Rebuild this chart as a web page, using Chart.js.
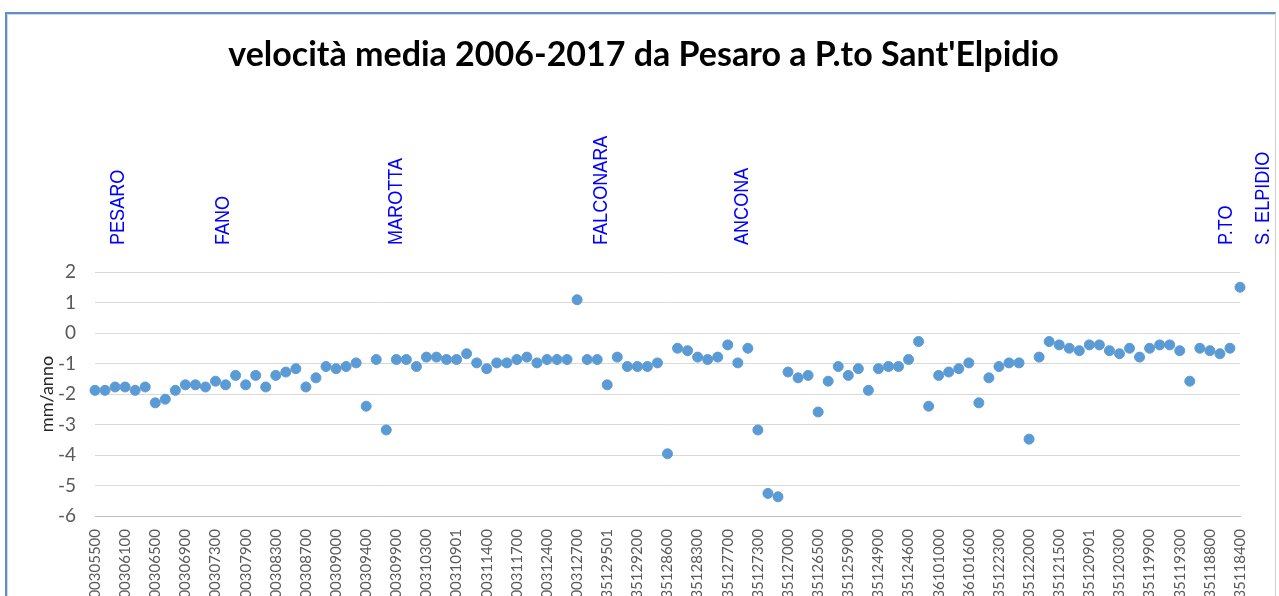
<!DOCTYPE html>
<html lang="it">
<head>
    <meta charset="UTF-8">
    <meta name="viewport" content="width=device-width, initial-scale=1.0">
    <title>velocità media 2006-2017</title>
    <script src="https://cdn.jsdelivr.net/npm/chart.js"></script>
    <style>
        html, body {
            margin: 0;
            padding: 0;
            background: #fff;
            overflow: hidden;
        }
        .frame {
            position: absolute;
            left: 5px;
            top: 12px;
            width: 1268px;
            height: 620px;
            border-left: 2px solid #5b8fd0;
            border-top: 2px solid #5b8fd0;
            border-right: 1px solid #d0d0d0;
            box-shadow: inset 1px 1px 0 #d8d8d8;
        }
        .chart-box {
            position: absolute;
            left: 0;
            top: 0;
            width: 1279px;
            height: 596px;
        }
    </style>
</head>
<body>
    <div class="frame"></div>
    <div class="chart-box">
        <canvas id="velChart"></canvas>
    </div>

    <script>
        const titolo = "velocità media 2006-2017 da Pesaro a P.to Sant'Elpidio";

        // codici dei capisaldi (uno ogni tre punti, come nell'originale)
        const codici = [
            '00305500', '00306100', '00306500', '00306900', '00307300', '00307900', '00308300',
            '00308700', '00309000', '00309400', '00309900', '00310300', '00310901',
            '00311400', '00311700', '00312400', '00312700', '35129501', '35129200', '35128600',
            '35128300', '35127700', '35127300', '35127000', '35126500', '35125900',
            '35124900', '35124600', '36101000', '36101600', '35122300', '35122000', '35121500',
            '35120901', '35120300', '35119900', '35119300', '35118800', '35118400'
        ];

        // velocità media (mm/anno)
        const velocita = [
            -1.88, -1.88, -1.77, -1.77, -1.88, -1.77, -2.29, -2.17, -1.88, -1.70,
            -1.70, -1.77, -1.58, -1.70, -1.39, -1.70, -1.39, -1.77, -1.39, -1.28,
            -1.17, -1.77, -1.47, -1.10, -1.17, -1.10, -0.98, -2.40, -0.87, -3.18,
            -0.87, -0.87, -1.10, -0.79, -0.79, -0.87, -0.87, -0.68, -0.98, -1.17,
            -0.98, -0.98, -0.87, -0.79, -0.98, -0.87, -0.87, -0.87, 1.09, -0.87,
            -0.87, -1.70, -0.79, -1.10, -1.10, -1.10, -0.98, -3.96, -0.50, -0.58,
            -0.79, -0.87, -0.79, -0.39, -0.98, -0.50, -3.18, -5.26, -5.37, -1.28,
            -1.47, -1.39, -2.59, -1.58, -1.10, -1.39, -1.17, -1.88, -1.17, -1.10,
            -1.10, -0.87, -0.28, -2.40, -1.39, -1.28, -1.17, -0.98, -2.29, -1.47,
            -1.10, -0.98, -0.98, -3.48, -0.79, -0.28, -0.39, -0.50, -0.58, -0.39,
            -0.39, -0.58, -0.68, -0.50, -0.79, -0.50, -0.39, -0.39, -0.58, -1.58,
            -0.50, -0.58, -0.68, -0.50, 1.50
        ];

        // località lungo la costa e posizione (in punti) sull'asse
        const localita = ['PESARO', 'FANO', 'MAROTTA', 'FALCONARA', 'ANCONA', 'P.TO', 'S. ELPIDIO'];
        const posLocalita = [2.3, 12.8, 30.0, 50.4, 64.4, 112.6, 116.3];

        const passo = 3;
        const etichette = velocita.map((v, i) => i % passo === 0 ? codici[i / passo] : '');

        // titolo centrato sul riquadro e nomi delle località in verticale
        const pluginTesti = {
            id: 'testi',
            afterDraw(chart) {
                const ctx = chart.ctx;
                const x = chart.scales.x;
                ctx.save();
                ctx.fillStyle = '#000';
                ctx.font = 'bold 34px Lato, sans-serif';
                ctx.textAlign = 'center';
                ctx.textBaseline = 'middle';
                ctx.fillText(titolo, chart.width / 2 + 4, 55);

                const base = chart.chartArea.top - 27;
                ctx.fillStyle = '#0000ff';
                ctx.font = '21px "Liberation Sans", Arial, sans-serif';
                ctx.textAlign = 'left';
                localita.forEach((nome, i) => {
                    ctx.save();
                    ctx.translate(x.getPixelForValue(posLocalita[i]), base);
                    ctx.rotate(-Math.PI / 2);
                    ctx.scale(0.86, 1); // testo stretto come nell'originale
                    ctx.fillText(nome, 0, 0);
                    ctx.restore();
                });
                ctx.restore();
            }
        };

        const ctx = document.getElementById('velChart').getContext('2d');
        new Chart(ctx, {
            type: 'line',
            data: {
                labels: etichette,
                datasets: [{
                    label: 'velocità media',
                    data: velocita,
                    showLine: false,
                    pointRadius: 5,
                    pointHoverRadius: 5,
                    pointBackgroundColor: '#5b9bd5',
                    pointBorderColor: '#5b9bd5',
                    pointBorderWidth: 1
                }]
            },
            options: {
                responsive: true,
                maintainAspectRatio: false,
                animation: false,
                layout: {
                    padding: { left: 0, right: 39, top: 272, bottom: 0 }
                },
                plugins: {
                    legend: { display: false },
                    tooltip: { enabled: false },
                    title: { display: false }
                },
                scales: {
                    x: {
                        grid: { display: false },
                        border: { display: true, color: '#bfbfbf', width: 1 },
                        ticks: {
                            autoSkip: false,
                            minRotation: 90,
                            maxRotation: 90,
                            padding: 5,
                            color: '#595959',
                            font: { family: 'Lato', size: 15 }
                        },
                        afterFit: s => { s.height = 80; }
                    },
                    y: {
                        min: -6,
                        max: 2,
                        ticks: {
                            stepSize: 1,
                            padding: 19,
                            color: '#595959',
                            font: { family: 'Lato', size: 19 }
                        },
                        grid: { color: '#d9d9d9', drawTicks: false },
                        border: { display: false },
                        title: {
                            display: true,
                            text: 'mm/anno',
                            color: '#262626',
                            font: { family: 'Lato', size: 18 },
                            padding: { top: 36, bottom: 0 }
                        },
                        afterFit: s => { s.width = 95; }
                    }
                }
            },
            plugins: [pluginTesti]
        });
    </script>
</body>
</html>
